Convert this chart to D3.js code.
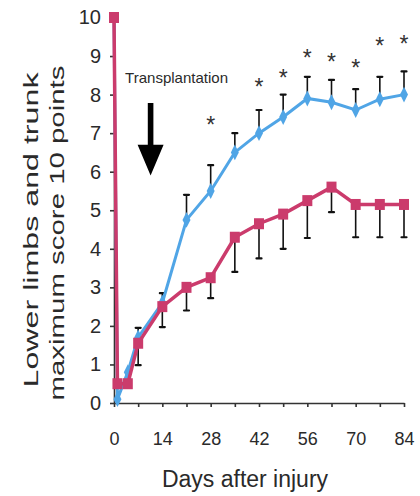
<!DOCTYPE html>
<html>
<head>
<meta charset="utf-8">
<script src="https://cdn.jsdelivr.net/npm/d3@7"></script>
<style>
  body { margin: 0; background: #fff; }
  svg { display: block; font-family: "Liberation Sans", Arial, sans-serif; }
</style>
</head>
<body>
<svg id="chart" width="420" height="496"></svg>
<script>
// days after injury
var days = [0, 1, 4, 7, 14, 21, 28, 35, 42, 49, 56, 63, 70, 77, 84];
// transplanted group (blue) and control group (pink)
var blueScore = [10, 0.1, 0.8, 1.7, 2.6, 4.75, 5.5, 6.5, 7.0, 7.42, 7.9, 7.8, 7.6, 7.88, 8.0];
var blueErr   = [0, 0, 0, 0.25, 0.25, 0.65, 0.67, 0.5, 0.6, 0.58, 0.56, 0.58, 0.54, 0.58, 0.6];
var pinkScore = [10, 0.5, 0.5, 1.55, 2.5, 3.0, 3.25, 4.3, 4.65, 4.9, 5.25, 5.6, 5.15, 5.15, 5.15];
var pinkErr   = [0, 0, 0, 0.57, 0.53, 0.6, 0.53, 0.9, 0.9, 0.9, 0.97, 0.65, 0.85, 0.85, 0.85];
// significance marks
var starDays  = [28, 42, 49, 56, 63, 70, 77, 84];
var starLevel = [7.34, 8.33, 8.56, 9.08, 8.98, 8.82, 9.39, 9.44];
var yTicks = [0, 1, 2, 3, 4, 5, 6, 7, 8, 9, 10];
var xTicks = [0, 7, 14, 21, 28, 35, 42, 49, 56, 63, 70, 77, 84];

var svg = d3.select("#chart");
var blue = "#50a5e6", pink = "#cb3b6c", ink = "#2a2a2a";

var x = d3.scaleLinear().domain([0, 84]).range([114, 404]);
var y = d3.scaleLinear().domain([0, 10]).range([403, 17.5]);

var blueData = days.map(function(d, i) { return {day: d, v: blueScore[i], e: blueErr[i]}; });
var pinkData = days.map(function(d, i) { return {day: d, v: pinkScore[i], e: pinkErr[i]}; });

// axes
var gy = svg.append("g")
    .attr("transform", "translate(" + x(0) + ",0)")
    .call(d3.axisLeft(y).tickValues(yTicks).tickSize(4).tickSizeOuter(0).tickPadding(9));
var gx = svg.append("g")
    .attr("transform", "translate(0," + y(0) + ")")
    .call(d3.axisBottom(x).tickValues(xTicks).tickSize(4).tickSizeOuter(0).tickPadding(25)
        .tickFormat(function(d) { return d % 14 === 0 ? d : ""; }));
[gx, gy].forEach(function(g) {
    g.selectAll("path, line").attr("stroke", "#333").attr("stroke-width", 1.6);
    g.selectAll("text").attr("fill", ink).attr("font-family", "Liberation Sans, Arial, sans-serif");
});
gy.selectAll("text").attr("font-size", 20);
gx.selectAll("text").attr("font-size", 18);

// error bars
function errBars(data, dir) {
    var g = svg.append("g").attr("stroke", "#111");
    var d = data.filter(function(p) { return p.e > 0; });
    g.selectAll("line.bar").data(d).enter().append("line")
        .attr("x1", function(p) { return x(p.day); })
        .attr("x2", function(p) { return x(p.day); })
        .attr("y1", function(p) { return y(p.v); })
        .attr("y2", function(p) { return y(p.v + dir * p.e); })
        .attr("stroke-width", 1.6);
    g.selectAll("line.cap").data(d).enter().append("line")
        .attr("x1", function(p) { return x(p.day) - 2.5; })
        .attr("x2", function(p) { return x(p.day) + 2.5; })
        .attr("y1", function(p) { return y(p.v + dir * p.e); })
        .attr("y2", function(p) { return y(p.v + dir * p.e); })
        .attr("stroke-width", 2.2)
        .attr("stroke-linecap", "round");
}
errBars(blueData, 1);
errBars(pinkData, -1);

var line = d3.line().x(function(p) { return x(p.day); }).y(function(p) { return y(p.v); });

// blue series
svg.append("path").datum(blueData)
    .attr("d", line).attr("fill", "none").attr("stroke", blue).attr("stroke-width", 3);
svg.append("g").selectAll("path").data(blueData.slice(1)).enter().append("path")
    .attr("d", d3.symbol().type(d3.symbolDiamond).size(55))
    .attr("transform", function(p) { return "translate(" + x(p.day) + "," + y(p.v) + ") scale(1,1.15)"; })
    .attr("fill", blue);

// pink series
svg.append("path").datum(pinkData)
    .attr("d", line).attr("fill", "none").attr("stroke", pink).attr("stroke-width", 3.5);
svg.append("g").selectAll("rect").data(pinkData).enter().append("rect")
    .attr("x", function(p) { return x(p.day) - 5; })
    .attr("y", function(p) { return y(p.v) - 5.5; })
    .attr("width", 10).attr("height", 11)
    .attr("fill", pink);

// stars
svg.append("g").selectAll("text").data(starDays).enter().append("text")
    .attr("x", function(d) { return x(d); })
    .attr("y", function(d, i) { return y(starLevel[i]) + 13; })
    .attr("text-anchor", "middle")
    .attr("font-size", 23)
    .attr("fill", "#333")
    .text("*");

// transplantation annotation
var arrowDay = 10.6, arrowTop = 7.78, arrowNeck = 6.7, arrowTip = 5.9;
svg.append("text")
    .attr("x", x(3.2)).attr("y", y(8.3))
    .attr("font-size", 15).attr("fill", ink)
    .attr("textLength", 103).attr("lengthAdjust", "spacingAndGlyphs")
    .text("Transplantation");
var ax = x(arrowDay);
svg.append("path")
    .attr("d", "M" + (ax - 2.8) + "," + y(arrowTop) + "H" + (ax + 2.8) + "V" + y(arrowNeck) +
        "H" + (ax + 13) + "L" + ax + "," + y(arrowTip) + "L" + (ax - 13) + "," + y(arrowNeck) +
        "H" + (ax - 2.8) + "Z")
    .attr("fill", "#000");

// axis titles
svg.append("text")
    .attr("x", 245).attr("y", 487)
    .attr("text-anchor", "middle").attr("font-size", 23).attr("fill", ink)
    .text("Days after injury");
svg.append("text")
    .attr("transform", "translate(38,230) rotate(-90)")
    .attr("text-anchor", "middle").attr("font-size", 20).attr("fill", ink)
    .attr("textLength", 315).attr("lengthAdjust", "spacingAndGlyphs")
    .text("Lower limbs and trunk");
svg.append("text")
    .attr("transform", "translate(64,233) rotate(-90)")
    .attr("text-anchor", "middle").attr("font-size", 20).attr("fill", ink)
    .attr("textLength", 335).attr("lengthAdjust", "spacingAndGlyphs")
    .text("maximum score 10 points");
</script>
</body>
</html>
